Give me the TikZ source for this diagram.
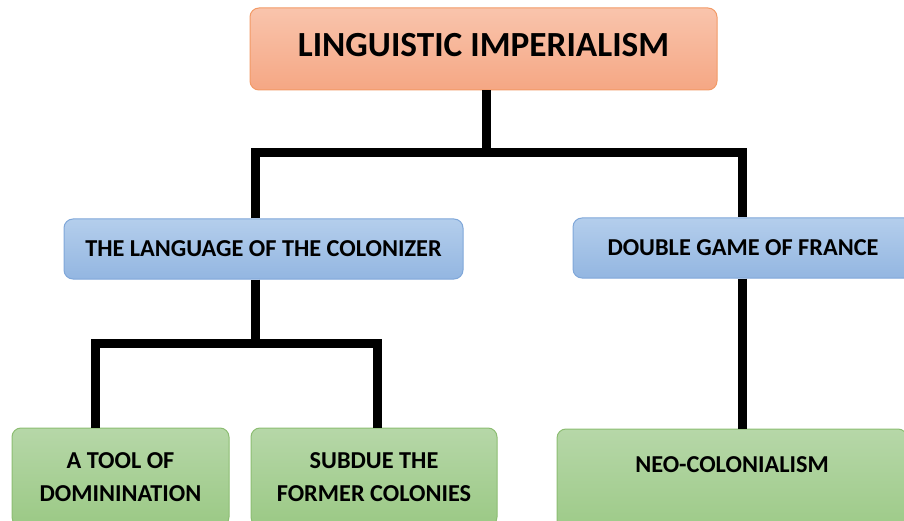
\documentclass[tikz,border=0pt]{standalone}
\usepackage{fontspec}
\setmainfont{Carlito}
\definecolor{orTop}{HTML}{F9C4AC}
\definecolor{orBot}{HTML}{F5A784}
\definecolor{orLine}{HTML}{F29A66}
\definecolor{blTop}{HTML}{B4CEEC}
\definecolor{blBot}{HTML}{93B6E1}
\definecolor{blLine}{HTML}{7FA7D9}
\definecolor{grTop}{HTML}{B6D7A8}
\definecolor{grBot}{HTML}{9BC985}
\definecolor{grLine}{HTML}{8CBD72}
\tikzset{
  box/.style={rounded corners=9pt, line width=1pt, align=center, inner sep=0pt,
    font=\bfseries},
  rootbox/.style={box, top color=orTop, bottom color=orBot, draw=orLine,
    font=\bfseries\fontsize{35.3}{40}\selectfont},
  midbox/.style={box, top color=blTop, bottom color=blBot, draw=blLine,
    font=\bfseries\fontsize{24.3}{28}\selectfont},
  leafbox/.style={box, top color=grTop, bottom color=grBot, draw=grLine,
    font=\bfseries\fontsize{24.3}{33}\selectfont},
  conn/.style={line width=9pt, line join=miter, line cap=butt}
}
\begin{document}
\begin{tikzpicture}[x=1pt,y=-1pt]
\useasboundingbox (0,0) rectangle (904,521);

% boxes (the lower row runs off the bottom edge)
\node[rootbox, minimum width=467pt, minimum height=82pt, text depth=9pt] (root) at (483.5,49) {LINGUISTIC IMPERIALISM};
\node[midbox, minimum width=399pt, minimum height=60pt] (lang) at (263.5,249) {THE LANGUAGE OF THE COLONIZER};
\node[midbox, minimum width=340pt, minimum height=60pt] (dgf) at (743,248) {DOUBLE GAME OF FRANCE};
\node[leafbox, minimum width=217pt, minimum height=98pt] (tool) at (120.5,477) {A TOOL OF\\DOMININATION};
\node[leafbox, minimum width=246pt, minimum height=98pt] (sub) at (374,477) {SUBDUE THE\\FORMER COLONIES};
\node[leafbox, minimum width=350pt, minimum height=110pt, text depth=39pt] (neo) at (732,484) {NEO-COLONIALISM};

% junction points of the tree
\coordinate (ja) at (255,152.5);
\coordinate (jb) at (742,152.5);
\coordinate (jc) at (95,343);
\coordinate (jd) at (377,343);

% connectors
\draw[conn] (root.south -| 486,0) -- (486,152.5);
\draw[conn] (ja |- lang.north) -- (ja) -- (jb) -- (jb |- dgf.north);
\draw[conn] (ja |- lang.south) -- (ja |- jc);
\draw[conn] (jc |- tool.north) -- (jc) -- (jd) -- (jd |- sub.north);
\draw[conn] (jb |- dgf.south) -- (jb |- neo.north);
\end{tikzpicture}
\end{document}
